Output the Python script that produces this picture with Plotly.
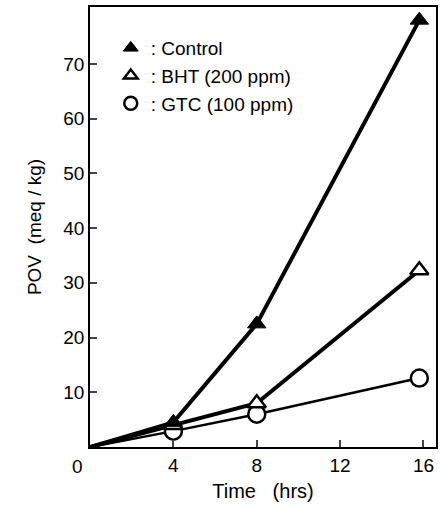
import plotly.graph_objects as go

time_hrs = [0, 4, 8, 15.8]
control = [0, 4.5, 22.5, 78]
bht = [0, 4.0, 8.0, 32.3]
gtc = [0, 2.9, 6.0, 12.6]

x_ticks = [4, 8, 12, 16]
y_ticks = [10, 20, 30, 40, 50, 60, 70]

fig = go.Figure()

fig.add_trace(go.Scatter(x=time_hrs, y=gtc, mode="lines", line=dict(color="black", width=2.5),
                         showlegend=False, hoverinfo="skip"))
fig.add_trace(go.Scatter(x=time_hrs, y=bht, mode="lines", line=dict(color="black", width=4),
                         showlegend=False, hoverinfo="skip"))
fig.add_trace(go.Scatter(x=time_hrs, y=control, mode="lines", line=dict(color="black", width=4),
                         showlegend=False, hoverinfo="skip"))

fig.add_trace(go.Scatter(x=time_hrs[1:], y=gtc[1:], mode="markers",
                         marker=dict(symbol="circle", size=17, color="white", line=dict(color="black", width=2.5)),
                         name=": GTC (100 ppm)", showlegend=False))
fig.add_trace(go.Scatter(x=time_hrs[1:], y=bht[1:], mode="markers",
                         marker=dict(symbol="triangle-up", size=16, color="white", line=dict(color="black", width=2.5)),
                         name=": BHT (200 ppm)", showlegend=False))
fig.add_trace(go.Scatter(x=time_hrs[1:], y=control[1:], mode="markers",
                         marker=dict(symbol="triangle-up", size=16, color="black", line=dict(color="black", width=1)),
                         name=": Control", showlegend=False))

# legend entries
fig.add_trace(go.Scatter(x=[None], y=[None], mode="markers",
                         marker=dict(symbol="triangle-up", size=13, color="black", line=dict(color="black", width=1)),
                         name=": Control"))
fig.add_trace(go.Scatter(x=[None], y=[None], mode="markers",
                         marker=dict(symbol="triangle-up", size=12, color="white", line=dict(color="black", width=2.5)),
                         name=": BHT (200 ppm)"))
fig.add_trace(go.Scatter(x=[None], y=[None], mode="markers",
                         marker=dict(symbol="circle", size=13, color="white", line=dict(color="black", width=2.5)),
                         name=": GTC (100 ppm)"))

font = "Liberation Sans, Arial, sans-serif"

fig.update_layout(
    width=443, height=511,
    margin=dict(l=90, r=6, t=5, b=64),
    paper_bgcolor="white", plot_bgcolor="white",
    font=dict(family=font, color="black", size=18),
    showlegend=True,
    legend=dict(x=0.06, y=0.95, xanchor="left", yanchor="top", bgcolor="rgba(0,0,0,0)",
                font=dict(size=19, family=font), tracegroupgap=0, itemwidth=30),
    xaxis=dict(range=[0, 16.6], tickvals=x_ticks, ticktext=[str(v) for v in x_ticks],
               ticks="inside", ticklen=7, tickwidth=1.5, showline=True, linewidth=1.5, linecolor="black",
               mirror=True, showgrid=False, zeroline=False, tickfont=dict(size=19),
               title=dict(text="Time   (hrs)", font=dict(size=20), standoff=9)),
    yaxis=dict(range=[0, 80.4], tickvals=y_ticks, ticktext=[str(v) for v in y_ticks],
               ticks="inside", ticklen=7, tickwidth=1.5, showline=True, linewidth=1.5, linecolor="black",
               mirror=True, showgrid=False, zeroline=False, tickfont=dict(size=19),
               title=dict(text="POV  (meq / kg)", font=dict(size=19), standoff=17)),
    annotations=[dict(x=0, y=0, xref="x", yref="y", text="0", showarrow=False,
                      xshift=-13, yshift=-19, font=dict(size=19, family=font))],
)

fig.write_html("out.html")
